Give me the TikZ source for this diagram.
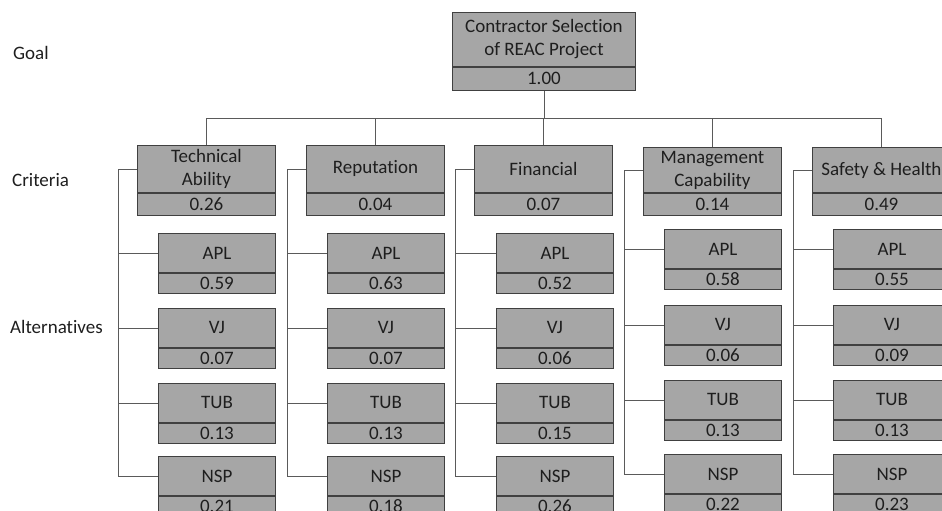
\documentclass[tikz,border=0pt]{standalone}
\usepackage{fontspec}
\setmainfont{Carlito}[RawFeature=-liga]

\definecolor{boxfill}{HTML}{A6A6A6}
\definecolor{boxline}{HTML}{404040}
\definecolor{wirecol}{HTML}{5A5A5A}
\definecolor{inkcol}{HTML}{1E1E1E}

\tikzset{
  namebox/.style={draw=boxline, fill=boxfill, line width=0.9pt, anchor=north west,
    inner sep=0pt, align=center, text=inkcol, font=\fontsize{19}{23}\selectfont},
  wire/.style={draw=wirecol, line width=0.9pt},
  levellabel/.style={anchor=west, inner sep=0pt, text=inkcol, font=\fontsize{19}{22}\selectfont}
}

% criterion box: id, x, y, upper height, label, value
\newcommand\critbox[6]{%
  \node[namebox, minimum width=138pt, minimum height=#4pt] (#1) at (#2,#3) {#5};
  \node[namebox, minimum width=138pt, minimum height=22pt] (#1v) at (#1.south west) {#6};
}
% alternative box: id, x, y, label, value
\newcommand\altbox[5]{%
  \node[namebox, minimum width=117pt, minimum height=39pt] (#1) at (#2,#3) {#4};
  \node[namebox, minimum width=117pt, minimum height=20pt] (#1v) at (#1.south west) {#5};
}

\begin{document}
\begin{tikzpicture}[x=1pt,y=-1pt]
\useasboundingbox (0,0) rectangle (942,511);
\clip (0,0) rectangle (942,511);

% level labels
\node[levellabel] (lgoal) at (13,53) {Goal};
\node[levellabel] (lcrit) at (12,180) {Criteria};
\node[levellabel] (lalt) at (10,327) {Alternatives};

% goal
\node[namebox, minimum width=183pt, minimum height=54pt] (goal) at (452,12) {Contractor Selection\\of REAC Project};
\node[namebox, minimum width=183pt, minimum height=23pt] (goalv) at (goal.south west) {1.00};

% criteria
\critbox{c1}{137}{145}{47}{Technical\\Ability}{0.26}
\critbox{c2}{306}{145}{47}{Reputation}{0.04}
\critbox{c3}{474}{145}{47}{Financial}{0.07}
\critbox{c4}{643}{147}{45}{Management\\Capability}{0.14}
\critbox{c5}{812}{147}{45}{Safety \& Health}{0.49}

% alternatives
\altbox{c1a}{158}{233}{APL}{0.59}
\altbox{c1b}{158}{308}{VJ}{0.07}
\altbox{c1c}{158}{383}{TUB}{0.13}
\altbox{c1d}{158}{456}{NSP}{0.21}

\altbox{c2a}{327}{233}{APL}{0.63}
\altbox{c2b}{327}{308}{VJ}{0.07}
\altbox{c2c}{327}{383}{TUB}{0.13}
\altbox{c2d}{327}{456}{NSP}{0.18}

\altbox{c3a}{496}{233}{APL}{0.52}
\altbox{c3b}{496}{308}{VJ}{0.06}
\altbox{c3c}{496}{383}{TUB}{0.15}
\altbox{c3d}{496}{456}{NSP}{0.26}

\altbox{c4a}{664}{229}{APL}{0.58}
\altbox{c4b}{664}{305}{VJ}{0.06}
\altbox{c4c}{664}{380}{TUB}{0.13}
\altbox{c4d}{664}{454}{NSP}{0.22}

\altbox{c5a}{833}{229}{APL}{0.55}
\altbox{c5b}{833}{305}{VJ}{0.09}
\altbox{c5c}{833}{380}{TUB}{0.13}
\altbox{c5d}{833}{454}{NSP}{0.23}

% goal to criteria
\foreach \c in {c1,c2,c3,c4,c5}
  \draw[wire] (goalv.south) -- ++(0,28) -| (\c.north);

% criteria to alternatives
\foreach \c in {c1,c2,c3,c4,c5}
  \foreach \a in {a,b,c,d}
    \draw[wire] (\c.west) -- ++(-19,0) |- (\c\a.west);
\end{tikzpicture}
\end{document}
